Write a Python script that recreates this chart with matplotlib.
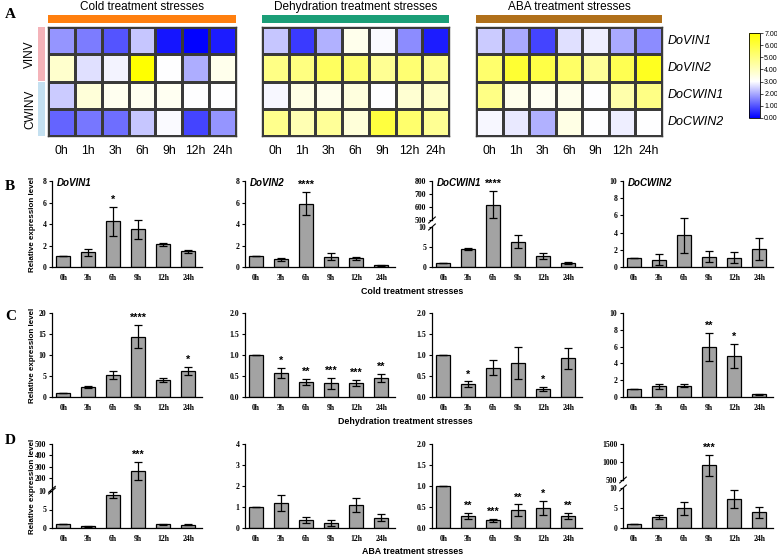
import numpy as np
import matplotlib
matplotlib.use("Agg")
import matplotlib.pyplot as plt
from matplotlib.colors import LinearSegmentedColormap
from matplotlib.patches import Rectangle
import matplotlib.transforms as mtransforms

W, H, DPI = 777, 557, 100
plt.rcParams["font.family"] = ["Liberation Sans", "DejaVu Sans"]

genes = ["DoVIN1", "DoVIN2", "DoCWIN1", "DoCWIN2"]
heat_hours = ["0h", "1h", "3h", "6h", "9h", "12h", "24h"]
bar_hours = ["0h", "3h", "6h", "9h", "12h", "24h"]

# heatmap values, rows follow genes
heat_cold = [
    [1.75, 1.45, 1.0, 2.35, 0.25, 0.05, 0.35],
    [3.8, 2.65, 2.85, 7.0, 3.0, 2.05, 3.3],
    [2.4, 3.6, 3.25, 3.25, 3.2, 3.0, 3.0],
    [1.2, 1.4, 1.3, 2.35, 2.95, 0.8, 1.75],
]
heat_dehy = [
    [2.35, 0.7, 2.1, 3.3, 2.95, 1.65, 0.35],
    [4.9, 5.0, 5.5, 5.3, 4.7, 5.2, 4.8],
    [2.9, 3.4, 3.3, 3.5, 3.0, 3.7, 3.9],
    [4.8, 4.2, 4.6, 3.6, 6.0, 5.3, 4.7],
]
heat_aba = [
    [2.4, 2.0, 0.8, 2.65, 2.8, 2.0, 1.65],
    [5.3, 6.2, 5.9, 5.4, 4.6, 5.7, 6.5],
    [4.9, 3.3, 3.2, 3.3, 3.0, 4.3, 4.9],
    [2.9, 2.75, 2.1, 3.4, 3.0, 2.8, 3.0],
]

# bar data: mean, sd, significance per time point
cold_vin1 = [1.0, 1.35, 4.25, 3.5, 2.1, 1.45]
cold_vin1_sd = [0, 0.35, 1.35, 0.85, 0.15, 0.12]
cold_vin1_sig = ["", "", "*", "", "", ""]
cold_vin2 = [1.0, 0.7, 5.9, 0.95, 0.8, 0.15]
cold_vin2_sd = [0, 0.12, 1.05, 0.32, 0.12, 0.06]
cold_vin2_sig = ["", "", "****", "", "", ""]
cold_cwin1 = [1.0, 4.6, 618, 6.3, 2.8, 1.0]
cold_cwin1_sd = [0, 0.25, 103, 1.6, 0.8, 0.15]
cold_cwin1_sig = ["", "", "****", "", "", ""]
cold_cwin2 = [1.0, 0.85, 3.7, 1.2, 1.1, 2.1]
cold_cwin2_sd = [0, 0.65, 2.05, 0.65, 0.6, 1.3]
cold_cwin2_sig = ["", "", "", "", "", ""]

dehy_vin1 = [1.0, 2.4, 5.3, 14.4, 4.1, 6.2]
dehy_vin1_sd = [0, 0.3, 0.9, 2.8, 0.5, 0.85]
dehy_vin1_sig = ["", "", "", "****", "", "*"]
dehy_vin2 = [1.0, 0.58, 0.36, 0.33, 0.33, 0.45]
dehy_vin2_sd = [0, 0.12, 0.07, 0.13, 0.07, 0.1]
dehy_vin2_sig = ["", "*", "**", "***", "***", "**"]
dehy_cwin1 = [1.0, 0.3, 0.7, 0.8, 0.2, 0.92]
dehy_cwin1_sd = [0, 0.07, 0.17, 0.38, 0.05, 0.25]
dehy_cwin1_sig = ["", "*", "", "", "*", ""]
dehy_cwin2 = [1.0, 1.3, 1.35, 5.95, 4.85, 0.3]
dehy_cwin2_sd = [0, 0.3, 0.2, 1.65, 1.45, 0.05]
dehy_cwin2_sig = ["", "", "", "**", "*", ""]

aba_vin1 = [1.0, 0.5, 9.0, 262, 1.0, 0.9]
aba_vin1_sd = [0, 0.15, 0.8, 80, 0.1, 0.2]
aba_vin1_sig = ["", "", "", "***", "", ""]
aba_vin2 = [1.0, 1.2, 0.38, 0.23, 1.1, 0.5]
aba_vin2_sd = [0, 0.37, 0.14, 0.15, 0.33, 0.15]
aba_vin2_sig = ["", "", "", "", "", ""]
aba_cwin1 = [1.0, 0.29, 0.18, 0.42, 0.48, 0.29]
aba_cwin1_sd = [0, 0.07, 0.03, 0.14, 0.17, 0.07]
aba_cwin1_sig = ["", "**", "***", "**", "*", "**"]
aba_cwin2 = [1.0, 2.8, 4.9, 905, 7.3, 3.9]
aba_cwin2_sd = [0, 0.45, 1.7, 290, 2.3, 1.4]
aba_cwin2_sig = ["", "", "", "***", "", ""]

fig = plt.figure(figsize=(W / DPI, H / DPI), dpi=DPI)


def box(x0, y0, x1, y1):
    return [x0 / W, 1 - y1 / H, (x1 - x0) / W, (y1 - y0) / H]


def ftext(x, y, s, **kw):
    fig.text(x / W, 1 - y / H, s, **kw)


def frect(x0, y0, x1, y1, color):
    fig.add_artist(Rectangle((x0 / W, 1 - y1 / H), (x1 - x0) / W, (y1 - y0) / H,
                             transform=fig.transFigure, color=color, lw=0))


# ---- A: heatmaps
cmap = LinearSegmentedColormap.from_list(
    "byw", [(0, "#0000ff"), (3 / 7, "#ffffff"), (1, "#ffff00")])

heat_panels = [
    ("Cold treatment stresses", heat_cold, "#ff7f0e", 48, 236),
    ("Dehydration treatment stresses", heat_dehy, "#1b9e77", 262, 449),
    ("ABA treatment stresses", heat_aba, "#b0701a", 476, 662),
]
for title, vals, col, x0, x1 in heat_panels:
    ax = fig.add_axes(box(x0, 27, x1, 136))
    mesh = ax.pcolormesh(np.array(vals), cmap=cmap, vmin=0, vmax=7,
                         edgecolors="#3a3a3a", linewidth=0.8)
    ax.set_xlim(0, 7)
    ax.set_ylim(4, 0)
    ax.set_xticks(np.arange(7) + 0.5, heat_hours)
    ax.set_yticks([])
    ax.tick_params(axis="x", length=0, pad=6.5, labelsize=8.8)
    for s in ax.spines.values():
        s.set_linewidth(1.0)
        s.set_color("#3a3a3a")
    frect(x0, 15, x1, 23, col)
    ftext((x0 + x1) / 2, 7, title, ha="center", va="center", fontsize=8.5)

for i, g in enumerate(genes):
    ftext(668, 27 + 27.25 * (i + 0.5), g, ha="left", va="center",
          fontsize=9, fontstyle="italic")

frect(38, 27, 45, 81, "#f4b3b9")
frect(38, 82, 45, 136, "#c4e0f0")
ftext(30, 54, "VINV", rotation=90, ha="center", va="center", fontsize=8.5)
ftext(30, 109, "CWINV", rotation=90, ha="center", va="center", fontsize=8.5)

cax = fig.add_axes(box(749, 33, 760, 118))
cb = fig.colorbar(mesh, cax=cax, ticks=range(8), format="%.2f")
cb.outline.set_linewidth(0.6)
cax.tick_params(labelsize=5, length=2, width=0.5, pad=1)

# ---- B, C, D: bar charts
col_x = [52, 245, 432, 623]
row_y = [(181, 267), (313, 397), (444, 528)]
serif = ["Liberation Serif", "DejaVu Serif"]


def make_scale(xp, fp):
    xp = np.asarray(xp, float)
    fp = np.asarray(fp, float)
    s0 = (fp[1] - fp[0]) / (xp[1] - xp[0])
    s1 = (fp[-1] - fp[-2]) / (xp[-1] - xp[-2])
    xe = np.r_[xp[0] - 1e5, xp, xp[-1] + 1e5]
    fe = np.r_[fp[0] - 1e5 * s0, fp, fp[-1] + 1e5 * s1]
    return (lambda y: np.interp(y, xe, fe)), (lambda v: np.interp(v, fe, xe))


def bar_panel(col, row, means, sds, sig, yticks, fmt="{:g}", gene=None, brk=None):
    top, bot = row_y[row]
    x0 = col_x[col]
    ax = fig.add_axes(box(x0, top, x0 + 150, bot))
    x = np.arange(len(means))
    ax.bar(x, means, width=0.56, color="#a3a3a3", edgecolor="black", linewidth=0.9, zorder=2)
    ax.errorbar(x, means, yerr=sds, fmt="none", ecolor="black", elinewidth=0.9,
                capsize=3, capthick=0.9, zorder=3)
    for i, s in enumerate(sig):
        if s:
            ax.annotate(s, (i, means[i] + sds[i]), xytext=(0, 1.5),
                        textcoords="offset points", ha="center", va="bottom",
                        fontsize=7.8, fontweight="bold")
    ax.set_xlim(-0.45, 5.55)
    if brk is not None:
        xp, fp = brk
        ax.set_yscale("function", functions=make_scale(xp, fp))
    ax.set_ylim(0, yticks[-1])
    ax.set_yticks(yticks, [fmt.format(t) for t in yticks])
    ax.set_xticks(x, bar_hours)
    for lab in ax.get_xticklabels() + ax.get_yticklabels():
        lab.set_family(serif)
        lab.set_weight("bold")
        lab.set_fontsize(5.6)
    ax.tick_params(axis="x", length=0, pad=5)
    ax.tick_params(axis="y", length=2.5, width=0.8, pad=1.5)
    ax.spines[["top", "right"]].set_visible(False)
    ax.spines["bottom"].set_linewidth(0.9)
    ax.spines["left"].set_linewidth(0.9)
    if brk is not None:
        xp, fp = brk
        ax.spines["left"].set_visible(False)
        tr = mtransforms.blended_transform_factory(ax.transAxes, ax.transData)
        ax.plot([0, 0], [0, xp[1]], color="black", lw=0.9, transform=tr, clip_on=False)
        ax.plot([0, 0], [xp[2], xp[-1]], color="black", lw=0.9, transform=tr, clip_on=False)
        for v in (fp[1], fp[2]):
            f = v / fp[-1]
            ax.plot([-0.022, 0.022], [f - 0.035, f + 0.035], color="black", lw=0.8,
                    transform=ax.transAxes, clip_on=False)
    if gene:
        ax.text(0.035, 1.03, gene, transform=ax.transAxes, ha="left", va="top",
                fontsize=7, fontweight="bold", fontstyle="italic")
    if col == 0:
        ax.set_ylabel("Relative expression level", fontsize=5.8, fontweight="bold")
        ax.yaxis.set_label_coords(-0.105, 0.5)
    return ax


bar_panel(0, 0, cold_vin1, cold_vin1_sd, cold_vin1_sig, [0, 2, 4, 6, 8], gene="DoVIN1")
bar_panel(1, 0, cold_vin2, cold_vin2_sd, cold_vin2_sig, [0, 2, 4, 6, 8], gene="DoVIN2")
bar_panel(2, 0, cold_cwin1, cold_cwin1_sd, cold_cwin1_sig, [0, 5, 10, 500, 600, 700, 800],
          gene="DoCWIN1", brk=([0, 10, 500, 800], [0, 40, 47, 86]))
bar_panel(3, 0, cold_cwin2, cold_cwin2_sd, cold_cwin2_sig, [0, 2, 4, 6, 8, 10], gene="DoCWIN2")

bar_panel(0, 1, dehy_vin1, dehy_vin1_sd, dehy_vin1_sig, [0, 5, 10, 15, 20])
bar_panel(1, 1, dehy_vin2, dehy_vin2_sd, dehy_vin2_sig, [0, 0.5, 1.0, 1.5, 2.0], fmt="{:.1f}")
bar_panel(2, 1, dehy_cwin1, dehy_cwin1_sd, dehy_cwin1_sig, [0, 0.5, 1.0, 1.5, 2.0], fmt="{:.1f}")
bar_panel(3, 1, dehy_cwin2, dehy_cwin2_sd, dehy_cwin2_sig, [0, 2, 4, 6, 8, 10])

bar_panel(0, 2, aba_vin1, aba_vin1_sd, aba_vin1_sig, [0, 5, 10, 200, 300, 400, 500],
          brk=([0, 10, 100, 500], [0, 37, 38.7, 84]))
bar_panel(1, 2, aba_vin2, aba_vin2_sd, aba_vin2_sig, [0, 1, 2, 3, 4])
bar_panel(2, 2, aba_cwin1, aba_cwin1_sd, aba_cwin1_sig, [0, 0.5, 1.0, 1.5, 2.0], fmt="{:.1f}")
bar_panel(3, 2, aba_cwin2, aba_cwin2_sd, aba_cwin2_sig, [0, 5, 10, 500, 1000, 1500],
          brk=([0, 10, 500, 1500], [0, 40, 48, 84]))

ftext(412, 291, "Cold treatment stresses", ha="center", va="center", fontsize=6.4, fontweight="bold")
ftext(405, 422, "Dehydration treatment stresses", ha="center", va="center", fontsize=6.4, fontweight="bold")
ftext(413, 551, "ABA treatment stresses", ha="center", va="center", fontsize=6.4, fontweight="bold")

for letter, y in [("A", 14), ("B", 186), ("C", 317), ("D", 441)]:
    ftext(5, y, letter, ha="left", va="center", fontsize=11, fontweight="bold", family=serif)

fig.savefig("out.png", dpi=DPI)
